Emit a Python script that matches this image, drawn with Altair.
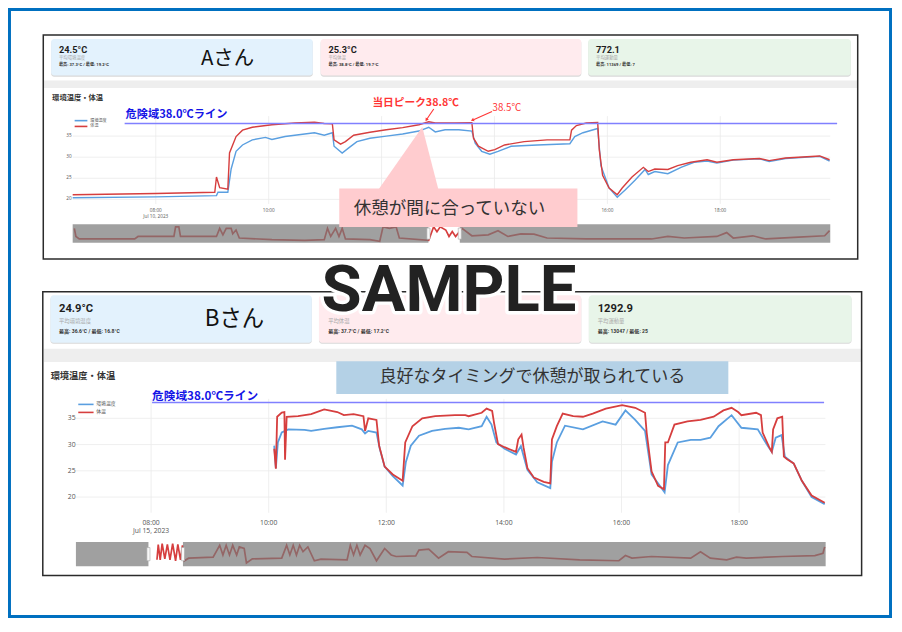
import altair as alt
import pandas as pd

# ================= values =================
series_names = ["環境温度", "体温"]
tick_hours = [8, 10, 12, 14, 16, 18]
# in panel A the 12:00 / 14:00 labels are hidden under the callout box
tick_labels_a = ["08:00\nJul 10, 2023", "10:00", "", "", "16:00", "18:00"]
tick_labels_b = ["08:00\nJul 15, 2023", "10:00", "12:00", "14:00", "16:00", "18:00"]
y_ticks = [20, 25, 30, 35]
danger_level = 38.0

card_names = ["平均環境温度", "平均体温", "平均運動量"]
cards_a_value = ["24.5°C", "25.3°C", "772.1"]
cards_a_range = ["最高: 37.3°C / 最低: 19.2°C", "最高: 38.8°C / 最低: 19.7°C", "最高: 11369 / 最低: 7"]
cards_b_value = ["24.9°C", "", "1292.9"]
cards_b_range = ["最高: 36.6°C / 最低: 16.8°C", "最高: 37.7°C / 最低: 17.2°C", "最高: 13047 / 最低: 25"]

# ---- Aさん (hours of day, °C)
a_env_h = [6.528, 8.0, 9.075, 9.102, 9.276, 9.335, 9.422, 9.536, 9.710, 9.943, 10.057, 10.290,
           10.637, 10.811, 10.984, 11.128, 11.158, 11.302, 11.418, 11.563, 11.793, 12.083, 12.373,
           12.661, 12.835, 12.951, 13.125, 13.368, 13.599, 13.658, 13.773, 13.918, 14.063, 14.293,
           14.757, 15.335, 15.422, 15.568, 15.828, 15.885, 16.030, 16.175, 16.319, 16.493, 16.667,
           16.724, 16.840, 17.071, 17.304, 17.535, 17.766, 17.939, 18.229, 18.693, 18.866, 19.155,
           19.762, 19.936]
a_env_v = [20.4, 20.6, 20.9, 21.7, 21.7, 27.2, 31.4, 32.9, 34.1, 34.7, 34.2, 34.9,
           35.5, 35.8, 35.2, 35.8, 32.6, 31.0, 32.2, 33.7, 34.5, 35.0, 35.5,
           36.2, 37.1, 36.0, 36.5, 36.5, 36.2, 33.3, 31.4, 30.7, 31.4, 32.6,
           32.9, 33.2, 34.9, 35.8, 36.8, 28.0, 22.7, 20.5, 22.3, 24.6, 27.1,
           25.9, 26.6, 26.1, 27.6, 28.8, 29.1, 28.6, 29.3, 29.6, 29.0, 29.7,
           30.2, 29.1]
a_body_h = [6.528, 8.0, 9.045, 9.075, 9.132, 9.276, 9.306, 9.422, 9.536, 9.710, 10.057, 10.464,
            10.811, 10.984, 11.128, 11.158, 11.273, 11.359, 11.505, 11.793, 12.083, 12.373,
            12.661, 12.835, 12.951, 13.299, 13.599, 13.628, 13.715, 13.889, 14.005, 14.179,
            14.526, 14.931, 15.335, 15.365, 15.451, 15.625, 15.828, 15.856, 15.915, 16.030,
            16.175, 16.262, 16.436, 16.637, 16.724, 16.840, 17.071, 17.245, 17.477, 17.766,
            17.939, 18.229, 18.693, 18.866, 19.155, 19.762, 19.936]
a_body_v = [21.1, 21.4, 21.7, 25.3, 22.8, 22.4, 31.0, 34.9, 36.4, 37.1, 37.7, 38.1,
            38.3, 38.0, 37.9, 34.1, 33.1, 33.7, 35.2, 35.9, 36.5, 37.0,
            37.7, 38.4, 38.1, 38.1, 38.2, 34.5, 32.6, 31.4, 31.8, 32.9,
            33.7, 34.1, 34.1, 36.4, 37.5, 38.1, 38.2, 31.8, 25.7, 22.7,
            21.1, 22.7, 25.3, 27.6, 26.6, 27.2, 27.1, 28.0, 28.8, 29.4,
            28.8, 29.4, 29.7, 29.2, 29.8, 30.3, 29.4]
# range-slider overview of Aさん (sample index, °C)
a_mini_t = [1.7, 3.3, 6.7, 63.3, 66.7, 103.3, 105, 108.3, 110, 146.7, 150, 153.3, 156.7, 161.7,
            163.3, 166.7, 170, 203.3, 236.7, 256.7, 260, 263.3, 268.3, 271.7, 275, 278.3, 303.3,
            313.3, 316.7, 323.3, 330, 333.3, 363.3, 368.3, 371.7, 375, 380.7, 384, 387.3, 390.7,
            397.3, 407.3, 424, 434, 444, 457.3, 470.7, 484, 524, 590.7, 607.3, 624, 657.3, 667.3,
            674, 694, 707.3, 740.7, 767.3, 772.3]
a_mini_v = [30, 21.6, 19, 19, 21.6, 21.6, 31.6, 31.6, 21.6, 21.6, 30, 23.3, 30, 30,
            24.3, 28.3, 20, 18.3, 17.6, 18.3, 30, 21.6, 30, 21.6, 30, 19, 18.3,
            16.6, 31.6, 30, 31.6, 20, 17.6, 31.6, 26.6, 31.6, 28.3, 21.6, 26.6, 21.6,
            30, 22.3, 23.3, 27.6, 21.6, 24.3, 24, 20, 19, 19, 21.6, 20, 21.6, 25.6,
            20, 22.3, 19, 21, 22.3, 27.6]

# ---- Bさん
b_env_h = [10.094, 10.122, 10.156, 10.222, 10.333, 10.611, 10.722, 10.944, 11.167, 11.417,
           11.583, 11.639, 11.694, 11.833, 11.889, 11.972, 12.111, 12.278, 12.333, 12.417,
           12.556, 12.778, 13.0, 13.233, 13.4, 13.622, 13.706, 13.789, 13.872, 14.011, 14.206,
           14.289, 14.4, 14.567, 14.789, 14.817, 14.9, 15.039, 15.344, 15.678, 15.9, 16.067,
           16.233, 16.4, 16.511, 16.733, 16.789, 16.956, 17.178, 17.344, 17.511, 17.65, 17.872,
           18.039, 18.317, 18.483, 18.556, 18.622, 18.722, 18.778, 18.928, 19.067, 19.233, 19.456]
b_env_v = [29.8, 25.5, 30.4, 32.3, 32.9, 32.8, 32.6, 33.0, 33.3, 33.6,
           32.9, 32.1, 32.6, 32.3, 29.2, 25.8, 24.0, 22.2, 26.7, 29.8,
           31.7, 32.6, 33.0, 33.2, 32.9, 33.5, 35.3, 33.8, 30.4, 29.2, 28.1,
           29.7, 25.2, 22.8, 21.7, 26.7, 30.4, 33.6, 32.9, 34.4, 33.8, 36.5,
           34.7, 32.6, 24.3, 20.9, 26.1, 30.4, 30.9, 30.9, 31.3, 33.5, 35.6,
           33.2, 32.9, 29.8, 28.6, 31.3, 31.8, 27.7, 26.4, 23.1, 20.0, 18.65]
b_body_h = [10.094, 10.122, 10.144, 10.222, 10.267, 10.278, 10.306, 10.5, 10.722, 10.944,
            11.167, 11.278, 11.444, 11.611, 11.639, 11.694, 11.833, 11.878, 11.972, 12.111,
            12.278, 12.322, 12.444, 12.611, 12.833, 13.167, 13.344, 13.4, 13.622, 13.706, 13.8,
            13.833, 13.9, 14.011, 14.206, 14.244, 14.3, 14.333, 14.4, 14.511, 14.678, 14.789,
            14.817, 14.9, 15.0, 15.178, 15.344, 15.511, 15.733, 16.011, 16.233, 16.4, 16.428,
            16.511, 16.622, 16.722, 16.744, 16.789, 16.9, 17.122, 17.344, 17.567, 17.733, 17.872,
            17.983, 18.039, 18.289, 18.372, 18.4, 18.511, 18.556, 18.578, 18.65, 18.733, 18.761,
            18.817, 18.928, 19.067, 19.233, 19.456]
b_body_v = [29.2, 25.4, 35.3, 36.1, 36.2, 27.1, 35.3, 35.4, 35.8, 36.7,
            36.2, 35.6, 35.8, 35.4, 32.6, 35.0, 34.7, 29.8, 25.8, 24.3,
            23.1, 30.4, 33.5, 35.0, 35.4, 35.6, 35.6, 35.4, 36.05, 36.85, 36.4,
            34.1, 30.1, 29.5, 28.6, 31.0, 31.9, 29.5, 25.5, 23.7, 22.9, 22.6,
            31.0, 33.5, 35.9, 35.4, 35.3, 35.9, 36.85, 37.5, 37.0, 36.05, 32.3,
            24.9, 22.15, 21.5, 30.4, 30.4, 33.8, 34.4, 34.7, 35.3, 36.5, 37.0,
            36.2, 35.6, 36.05, 35.6, 32.3, 29.5, 28.6, 32.9, 35.0, 35.3, 27.7,
            27.2, 26.4, 23.1, 20.3, 18.9]
b_mini_t = [82.7, 84, 86, 88, 90.7, 93.3, 96, 98.7, 101.7, 104, 106.7, 108.7, 110.7, 115, 140,
            146.7, 150, 153.3, 156.7, 160, 164, 166.7, 171.7, 174, 180, 210, 215, 218.3, 221.7,
            225, 228.3, 231.7, 236.7, 243.3, 250, 276.7, 280, 283.3, 286.7, 290, 295, 300, 306.7,
            315, 321.7, 326.7, 346.7, 350, 360, 370, 380, 399, 404, 437.3, 470.7, 514, 554, 560.7,
            567.3, 587.3, 627.3, 637.3, 647.3, 664, 674, 684, 720.7, 754, 762.3, 764]
b_mini_v = [21.6, 37.3, 21.6, 38.3, 22.6, 37.6, 21.6, 38.3, 20.6, 37.6, 21.6, 36.6, 20.6, 23.3, 24.3,
            36.6, 26.6, 36.6, 26.6, 36.6, 26.6, 35, 33.3, 18.3, 22.6, 23.3, 36.6, 26.6, 36.6,
            26.6, 36.6, 30, 35, 20.6, 22.3, 21.6, 36.6, 26.6, 36.6, 26.6, 36.6, 33.3, 20.6,
            33.3, 26.6, 25, 25.6, 31.6, 32.6, 23.3, 30, 29.3, 25, 22.3, 24, 21.6, 20.6, 26,
            23.3, 25, 23.3, 30, 23.3, 21.6, 24.3, 23.3, 25, 26, 28.3, 35]

# ================= layout / styles =================
SX = 884 / 902
SY = 610 / 632
SF = (SX + SY) / 2


def X(v):
    return round(v * SX, 2)


def Y(v):
    return round(v * SY, 2)


def F(v):
    return round(v * SF, 2)


FONT = "Roboto, 'Noto Sans CJK JP', sans-serif"
JP = "'Noto Sans CJK JP', sans-serif"
TICKF = "'Open Sans', 'Noto Sans CJK JP', sans-serif"
BLUE = "#5A9FE0"
RED = "#D63E3E"
DANGER = "#8080FF"
ANN_RED = "#FF3535"
DUMMY = pd.DataFrame({"k": [0]})
L = []


def rect(x0, y0, x1, y1, **mk):
    L.append(alt.Chart(DUMMY).mark_rect(**mk).encode(
        x=alt.value(X(x0)), x2=alt.value(X(x1)), y=alt.value(Y(y0)), y2=alt.value(Y(y1))))


def seg(x0, y0, x1, y1, color, width):
    L.append(alt.Chart(DUMMY).mark_rule(color=color, strokeWidth=width).encode(
        x=alt.value(X(x0)), x2=alt.value(X(x1)), y=alt.value(Y(y0)), y2=alt.value(Y(y1))))


def txt(s, x, y, size, color="#222", weight="normal", align="left", baseline="middle", font=FONT, **kw):
    if not s:
        return
    L.append(alt.Chart(DUMMY).mark_text(text=s, fontSize=F(size), color=color, fontWeight=weight,
                                        align=align, baseline=baseline, font=font, **kw).encode(
        x=alt.value(X(x)), y=alt.value(Y(y))))


def cards(top, bottom, xs, tx, vy, ny, ry, vsize, nsize, rsize, values, ranges):
    fills = ["#E3F2FD", "#FFEBEE", "#E8F5E9"]
    for (x0, x1), f in zip(xs, fills):
        rect(x0, top + 1.2, x1, bottom + 1.2, fill="#D9D9D9", cornerRadius=3)
        rect(x0, top, x1, bottom, fill=f, cornerRadius=3)
    for x, v, n, r in zip(tx, values, card_names, ranges):
        txt(v, x, vy, vsize, color="#1E1E1E", weight="bold")
        txt(n, x, ny, nsize, color="#A8A8A8", font=JP)
        txt(r, x, ry, rsize, color="#333333", weight="bold")


def plot_block(g, env_h, env_v, body_h, body_v, mini_t, mini_v, tick_labels):
    xs = alt.Scale(domain=g["xdom"], range=[X(g["xr"][0]), X(g["xr"][1])], nice=False, zero=False)
    ys = alt.Scale(domain=g["ydom"], range=[Y(g["yr"][0]), Y(g["yr"][1])], nice=False, zero=False)
    ticks = pd.DataFrame({"h": tick_hours, "lab": tick_labels})
    shown = ticks[ticks["lab"] != ""]
    yt = pd.DataFrame({"v": y_ticks, "lab": [str(v) for v in y_ticks]})
    xh = alt.X("h:Q", scale=xs, axis=None)
    yv = alt.Y("v:Q", scale=ys, axis=None)
    # grid
    L.append(alt.Chart(ticks).mark_rule(color="#EBEBEB", strokeWidth=0.8).encode(
        x=xh, y=alt.value(Y(g["gv"][0])), y2=alt.value(Y(g["gv"][1]))))
    L.append(alt.Chart(yt).mark_rule(color="#EBEBEB", strokeWidth=0.8).encode(
        y=yv, x=alt.value(X(g["gh"][0])), x2=alt.value(X(g["gh"][1]))))
    # tick labels
    L.append(alt.Chart(shown).mark_text(fontSize=F(g["tf"]), color="#555", baseline="top",
                                        lineBreak="\n", lineHeight=F(g["tlh"]), font=TICKF).encode(
        x=xh, y=alt.value(Y(g["xlab_y"])), text="lab:N"))
    L.append(alt.Chart(yt).mark_text(fontSize=F(g["tf"]), color="#555", align="right",
                                     baseline="middle", font=TICKF).encode(
        y=yv, x=alt.value(X(g["ylab_x"])), text="lab:N"))
    # series
    L.append(alt.Chart(pd.DataFrame({"h": env_h, "v": env_v})).mark_line(
        color=BLUE, strokeWidth=g["lw"]).encode(x=xh, y=yv))
    L.append(alt.Chart(pd.DataFrame({"h": body_h, "v": body_v})).mark_line(
        color=RED, strokeWidth=g["lw"]).encode(x=xh, y=yv))
    # danger line
    L.append(alt.Chart(pd.DataFrame({"v": [danger_level]})).mark_rule(color=DANGER, strokeWidth=1.6).encode(
        y=yv, x=alt.value(X(g["dx"][0])), x2=alt.value(X(g["dx"][1]))))
    txt("危険域38.0℃ライン", g["dlab"][0], g["dlab"][1], g["dlab"][2], color="#1414E6", weight="bold", font=JP)
    # legend
    lg = g["leg"]
    for name, col, yy in zip(series_names, [BLUE, RED], lg["ys"]):
        seg(lg["x0"], yy, lg["x1"], yy, col, 1.6)
        txt(name, lg["tx"], yy, lg["f"], color="#555", font=JP)
    # range slider
    sl = g["sl"]
    mxs = alt.Scale(domain=sl["tdom"], range=[X(sl["x0"]), X(sl["x1"])], nice=False, zero=False)
    mys = alt.Scale(domain=sl["vdom"], range=[Y(sl["y1"]), Y(sl["y0"])], nice=False, zero=False)
    L.append(alt.Chart(pd.DataFrame({"t": mini_t, "v": mini_v})).mark_line(
        color=RED, strokeWidth=1.7).encode(
        x=alt.X("t:Q", scale=mxs, axis=None), y=alt.Y("v:Q", scale=mys, axis=None)))
    rect(sl["x0"], sl["y0"], sl["w0"], sl["y1"], fill="#777777", opacity=0.7)
    rect(sl["w1"], sl["y0"], sl["x1"], sl["y1"], fill="#777777", opacity=0.7)
    for hx in (sl["w0"], sl["w1"]):
        rect(hx - 1.6, sl["hy"][0], hx + 1.6, sl["hy"][1], fill="#F8F8F8", stroke="#AAAAAA", strokeWidth=0.6)


# ---------- page background ----------
rect(0, 0, 902, 632, fill="white")

# ---------- panel A ----------
cards(32, 70, [(44, 311), (319, 585), (592, 860)], [52, 327, 600], 43, 52, 58.7, 9.5, 4.5, 4.3,
      cards_a_value, cards_a_range)
txt("Aさん", 224, 52.5, 21, color="#111", align="center", font=JP)
rect(36.7, 75, 866.3, 83, fill="#EEEEEE")
txt("環境温度・体温", 45, 93, 7.5, color="#333", weight="bold", font=JP)

geoA = dict(xdom=[6.5, 20.0], xr=[64.4, 842], ydom=[20, 38], yr=[198.3, 119.6],
            gv=[112, 203], gh=[66, 839], tf=4.8, tlh=6.3, xlab_y=207.6, ylab_x=65,
            lw=1.4, dx=[119, 846], dlab=[120, 111.3, 11.5],
            leg=dict(x0=68, x1=81, ys=[116.7, 122.7], tx=84, f=4.2),
            sl=dict(x0=66, x1=839, y0=224, y1=243.3, tdom=[0, 773], vdom=[15, 34.3],
                    w0=429, w1=461, hy=[228, 239.5]))
plot_block(geoA, a_env_h, a_env_v, a_body_h, a_body_v, a_mini_t, a_mini_v, tick_labels_a)

# peak annotations
txt("当日ピーク38.8℃", 416, 98.7, 11, color=ANN_RED, weight="bold", align="center", font=JP)
seg(434.4, 104.7, 427.3, 115.2, ANN_RED, 1.1)
L.append(alt.Chart(DUMMY).mark_point(shape="triangle", angle=214, size=F(14), filled=True,
                                     color=ANN_RED, opacity=1).encode(
    x=alt.value(X(427.2)), y=alt.value(Y(115.4))))
txt("38.5℃", 509, 104, 10, color=ANN_RED, align="center", font=JP)
seg(493.9, 107.3, 475, 115.7, ANN_RED, 1.1)
L.append(alt.Chart(DUMMY).mark_point(shape="triangle", angle=246, size=F(14), filled=True,
                                     color=ANN_RED, opacity=1).encode(
    x=alt.value(X(474.3)), y=alt.value(Y(116))))

# callout A (pointer + box + text)
PINK = "#FFCCCF"
apex = (422.7, 123.3)
tri = "M0,0 L{:.2f},{:.2f} L{:.2f},{:.2f} Z".format(
    (377.7 - apex[0]) * SX, (188.5 - apex[1]) * SY, (439.3 - apex[0]) * SX, (188.5 - apex[1]) * SY)
L.append(alt.Chart(DUMMY).mark_point(shape=tri, size=4, filled=True, color=PINK, opacity=1,
                                     strokeWidth=0).encode(
    x=alt.value(X(apex[0])), y=alt.value(Y(apex[1]))))
rect(338, 187, 581, 227, fill=PINK)
txt("休憩が間に合っていない", 450.5, 208, 18, color="#333", align="center", font=JP)

# ---------- panel B ----------
cards(297.7, 346.7, [(43.3, 310), (317.3, 585), (592.7, 860.7)], [52, 326.7, 601.7], 312.3, 324.3, 335,
      11.5, 5.5, 5.2, cards_b_value, cards_b_range)
txt("Bさん", 231, 322.5, 23, color="#111", align="center", font=JP)
rect(36.7, 353, 870.3, 366.7, fill="#EEEEEE")
txt("環境温度・体温", 43.5, 381.7, 9.5, color="#333", weight="bold", font=JP)

geoB = dict(xdom=[6.5, 19.5], xr=[56, 836], ydom=[20, 38], yr=[506.7, 408.8],
            gv=[405, 523], gh=[69, 834], tf=7, tlh=8.4, xlab_y=530.8, ylab_x=69,
            lw=1.8, dx=[147, 832.7], dlab=[147, 401.7, 12],
            leg=dict(x0=71.7, x1=87.3, ys=[410.7, 419], tx=90, f=5),
            sl=dict(x0=69.3, x1=834.3, y0=553.3, y1=578.3, tdom=[0, 765], vdom=[15, 40],
                    w0=143.3, w1=178.5, hy=[559, 572.7]))
plot_block(geoB, b_env_h, b_env_v, b_body_h, b_body_v, b_mini_t, b_mini_v, tick_labels_b)

rect(335, 366, 735, 400, fill="#B4D1E6")
txt("良好なタイミングで休憩が取られている", 535, 382, 17.5, color="#333", align="center", font=JP)

# ---------- frames ----------
rect(36, 28, 867, 260, fillOpacity=0, stroke="#2B2B2B", strokeWidth=1.5)
rect(35.5, 294, 871, 588, fillOpacity=0, stroke="#2B2B2B", strokeWidth=1.5)

# ---------- watermark ----------
txt("SAMPLE", 450, 314, 67, color="white", weight="bold", align="center", baseline="alphabetic",
    font="Roboto", stroke="white", strokeWidth=F(7), strokeJoin="round")
txt("SAMPLE", 450, 314, 67, color="#222222", weight="bold", align="center", baseline="alphabetic",
    font="Roboto")

# ---------- outer border ----------
rect(1.5, 1.5, 900.5, 630.5, fillOpacity=0, stroke="#0070C0", strokeWidth=3)

chart = alt.layer(*L).resolve_scale(x="independent", y="independent").properties(
    width=884, height=610, autosize=alt.AutoSizeParams(type="none"), padding=0, background="white"
).configure_view(stroke=None)

chart.save("out.html", embed_options={"renderer": "svg", "actions": False})
